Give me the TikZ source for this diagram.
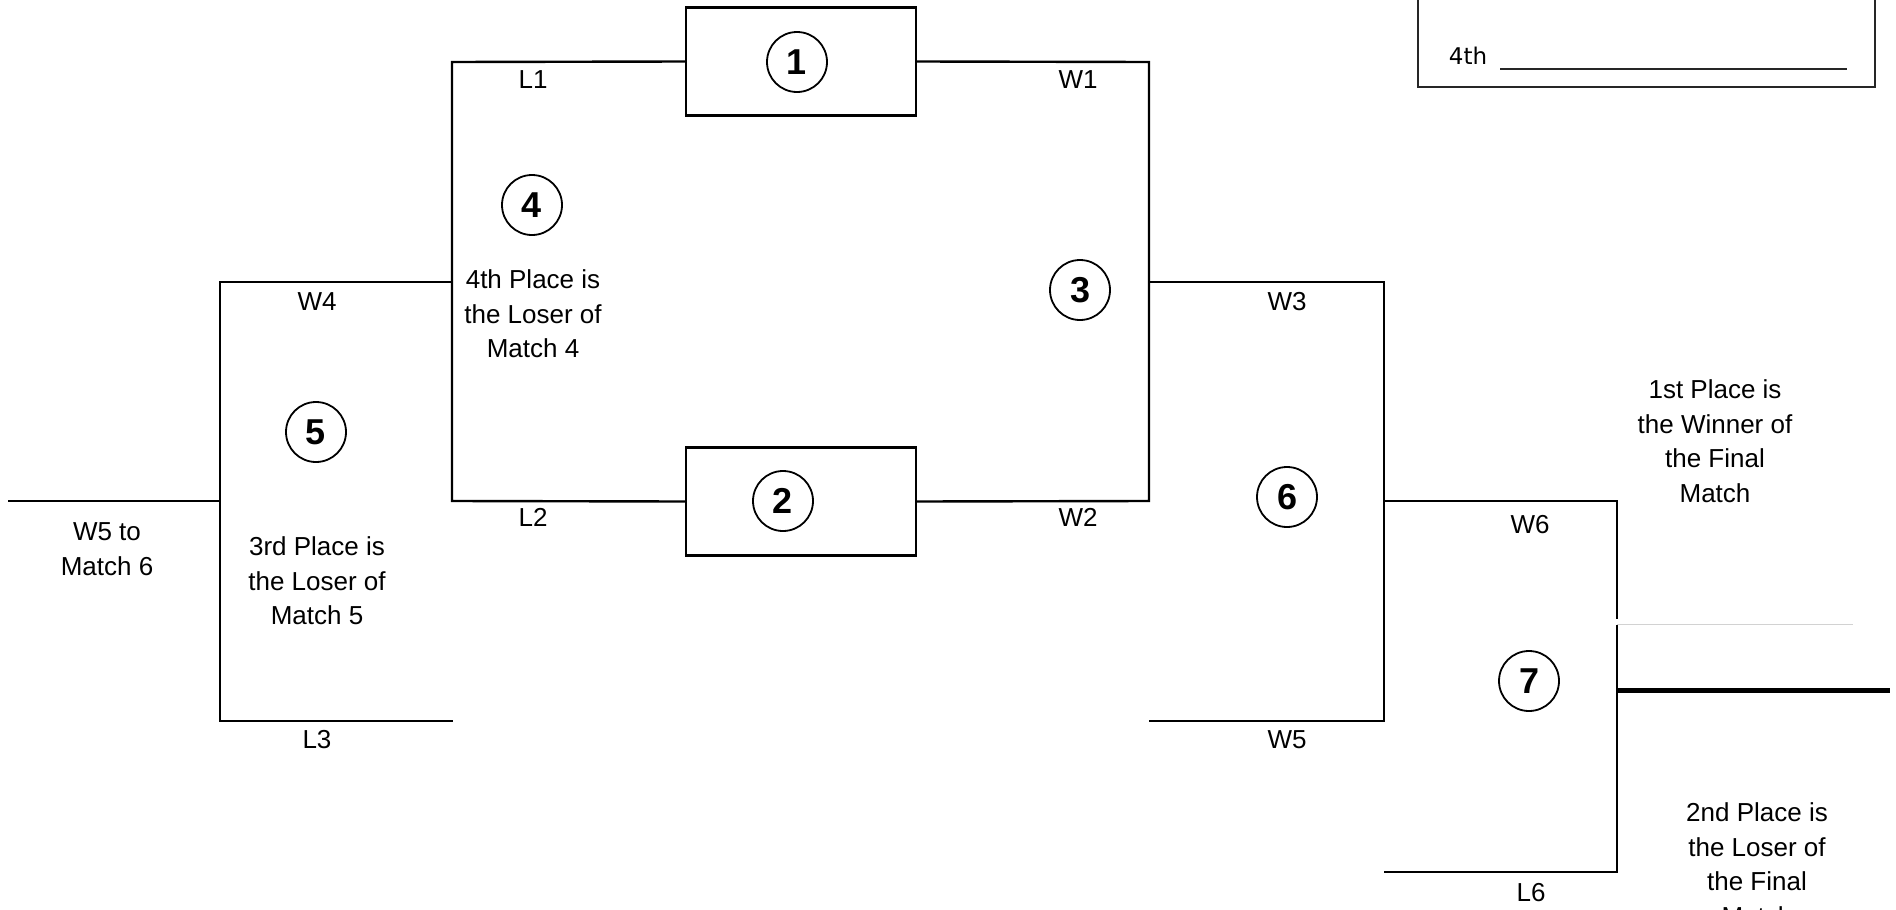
\documentclass[tikz,border=0pt]{standalone}
\usepackage{fontspec}
\setmainfont{Liberation Sans}
\newfontfamily\formfont{DejaVu Sans}
\usetikzlibrary{positioning}

\tikzset{
  game/.style={draw, line width=2.4pt, minimum width=230pt, minimum height=108pt, inner sep=0pt},
  num/.style={circle, draw, line width=1.8pt, minimum size=60pt, inner sep=0pt, font=\bfseries\fontsize{36}{36}\selectfont},
  lab/.style={inner sep=0pt, align=center, font=\fontsize{26}{34.5}\selectfont},
}

\begin{document}
\begin{tikzpicture}[x=1pt,y=-1pt,line width=2.4pt]
\useasboundingbox (0,0) rectangle (1896,910);
% first round
\node[game] (g1) at (801,61.5) {};
\node[game] (g2) at (801,501.5) {};
\node[num] (m1) at (797,62) {1};
\node[num] (m2) at (783,501) {2};
% corners of the bracket
\coordinate (l1) at (452,62);
\coordinate (l2) at (452,501);
\coordinate (w1) at (1149,62);
\coordinate (w2) at (1149,501);
\coordinate (w4r) at (452,282);
\coordinate (w4) at (220,282);
\coordinate (l3l) at (220,721);
\coordinate (l3) at (453,721);
\coordinate (in5) at (8,501);
\coordinate (c5) at (220,501);
\coordinate (w3l) at (1149,282);
\coordinate (w3) at (1384,282);
\coordinate (w5) at (1384,721);
\coordinate (w5l) at (1149,721);
\coordinate (c6) at (1384,501);
\coordinate (w6) at (1617,501);
\coordinate (gapA) at (1617,619);
\coordinate (gapB) at (1617,625);
\coordinate (l6) at (1617,872);
\coordinate (l6l) at (1384,872);
\coordinate (fin) at (1617,690);
\coordinate (finr) at (1890,690);
\coordinate (scanL) at (1617,624.5);
\coordinate (scanR) at (1853,624.5);
\draw (g1.west) -- (l1) -- (l2) -- (g2.west);
\draw (g1.east) -- (w1) -- (w2) -- (g2.east);
\draw (w4r) -- (w4) -- (l3l) -- (l3);
\draw (in5) -- (c5);
\draw (w3l) -- (w3) -- (w5) -- (w5l);
\draw (c6) -- (w6) -- (gapA);
\draw (gapB) -- (l6) -- (l6l);
\draw[line width=5pt] (fin) -- (finr);
\draw[gray!35, line width=0.8pt] (scanL) -- (scanR);
% match numbers
\node[num] (m3) at (1080,290) {3};
\node[num] (m4) at (532,205) {4};
\node[num] (m5) at (316,432) {5};
\node[num] (m6) at (1287,497) {6};
\node[num] (m7) at (1529,681) {7};
% line labels
\node[lab] (tL1) at (533,80) {L1};
\node[lab] (tW1) at (1078,80) {W1};
\node[lab] (tL2) at (533,517) {L2};
\node[lab] (tW2) at (1078,517) {W2};
\node[lab] (tW4) at (317,302) {W4};
\node[lab] (tW3) at (1287,302) {W3};
\node[lab] (tL3) at (317,740) {L3};
\node[lab] (tW5) at (1287,740) {W5};
\node[lab] (tW6) at (1530,525) {W6};
\node[lab] (tL6) at (1531,893) {L6};
% notes
\node[lab] (n4) at (533,314) {4th Place is\\the Loser of\\Match 4};
\node[lab] (n3) at (317,581) {3rd Place is\\the Loser of\\Match 5};
\node[lab] (n5) at (107,549) {W5 to\\Match 6};
\node[lab] (n1) at (1715,441) {1st Place is\\the Winner of\\the Final\\Match};
\node[lab] (n2) at (1757,864) {2nd Place is\\the Loser of\\the Final\\Match};
% placing box
\coordinate (bxA) at (1418,-5);
\coordinate (bxB) at (1418,87);
\coordinate (bxC) at (1875,87);
\coordinate (bxD) at (1875,-5);
\draw[line width=2.8pt, black!85] (bxA) -- (bxB) -- (bxC) -- (bxD);
\node[inner sep=0pt, font=\formfont\fontsize{23}{23}\selectfont] (p4) at (1468,56) {4th};
\coordinate (p4a) at (1500,69);
\coordinate (p4b) at (1847,69);
\draw[line width=2.2pt, black!85] (p4a) -- (p4b);
\end{tikzpicture}
\end{document}
